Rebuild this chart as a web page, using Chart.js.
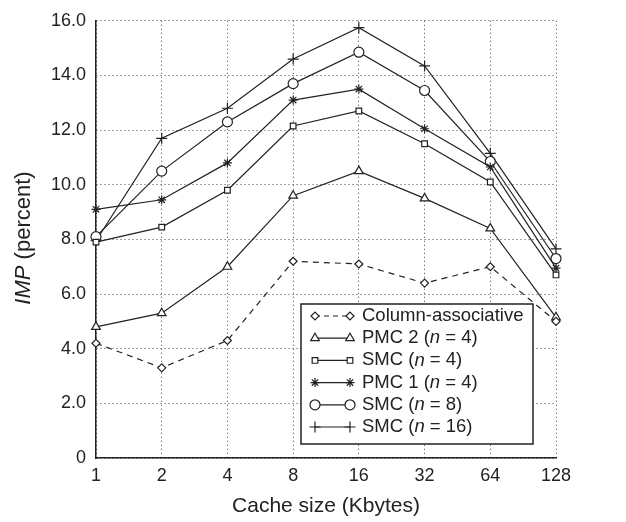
<!DOCTYPE html>
<html>
<head>
<meta charset="utf-8">
<script src="https://cdn.jsdelivr.net/npm/chart.js@4.4.0/dist/chart.umd.min.js"></script>
<style>
  html, body { margin: 0; padding: 0; background: #fff; }
  #wrap { width: 626px; height: 522px; }
</style>
</head>
<body>
<div id="wrap"><canvas id="chart" width="626" height="522"></canvas></div>
<script>
const cacheSizes = ["1", "2", "4", "8", "16", "32", "64", "128"];
const columnAssoc = [4.2, 3.3, 4.3, 7.2, 7.1, 6.4, 7.0, 5.0];
const pmc2 = [4.8, 5.3, 7.0, 9.6, 10.5, 9.5, 8.4, 5.15];
const smc4 = [7.9, 8.45, 9.8, 12.15, 12.7, 11.5, 10.1, 6.7];
const pmc1 = [9.1, 9.45, 10.8, 13.1, 13.5, 12.05, 10.65, 6.95];
const smc8 = [8.1, 10.5, 12.3, 13.7, 14.85, 13.45, 10.85, 7.3];
const smc16 = [7.95, 11.7, 12.8, 14.6, 15.75, 14.35, 11.15, 7.65];
const yTicks = [0, 2, 4, 6, 8, 10, 12, 14, 16];

const FONT = "'Liberation Sans', Arial, Helvetica, sans-serif";
const INK = "#222";

// legend rows: [prefix, italic part, suffix]
const series = [
  { label: ["Column-associative", "", ""], data: columnAssoc, style: "rectRot", r: 4, dash: [6, 5] },
  { label: ["PMC 2 (", "n", " = 4)"], data: pmc2, style: "triangle", r: 5, dash: [] },
  { label: ["SMC (", "n", " = 4)"], data: smc4, style: "rect", r: 4, dash: [] },
  { label: ["PMC 1 (", "n", " = 4)"], data: pmc1, style: "star", r: 4.5, dash: [] },
  { label: ["SMC (", "n", " = 8)"], data: smc8, style: "circle", r: 5, dash: [] },
  { label: ["SMC (", "n", " = 16)"], data: smc16, style: "cross", r: 5.5, dash: [] },
];

function drawMarker(ctx, s, x, y) {
  ctx.save();
  ctx.fillStyle = "#fff";
  ctx.strokeStyle = INK;
  ctx.lineWidth = 1.2;
  ctx.setLineDash([]);
  Chart.helpers.drawPoint(ctx, { pointStyle: s.style, radius: s.r, borderWidth: 1.2, rotation: 0 }, x, y);
  ctx.restore();
}

const extras = {
  id: "extras",
  afterDraw(chart) {
    const ctx = chart.ctx;
    const area = chart.chartArea;
    ctx.save();
    ctx.fillStyle = INK;

    // y axis title with italic IMP
    ctx.save();
    ctx.translate(24, 238);
    ctx.rotate(-Math.PI / 2);
    ctx.textBaseline = "middle";
    ctx.font = "italic 22px " + FONT;
    const w1 = ctx.measureText("IMP").width;
    ctx.font = "22px " + FONT;
    const w2 = ctx.measureText(" (percent)").width;
    let x0 = -(w1 + w2) / 2;
    ctx.font = "italic 22px " + FONT;
    ctx.fillText("IMP", x0, 0);
    ctx.font = "22px " + FONT;
    ctx.fillText(" (percent)", x0 + w1, 0);
    ctx.restore();

    // x axis title
    ctx.font = "21px " + FONT;
    ctx.textAlign = "center";
    ctx.textBaseline = "middle";
    ctx.fillText("Cache size (Kbytes)", (area.left + area.right) / 2, 506);

    // legend box
    const bx = 301, by = 304, bw = 232, bh = 140;
    ctx.fillStyle = "#fff";
    ctx.fillRect(bx, by, bw, bh);
    ctx.strokeStyle = INK;
    ctx.lineWidth = 1.5;
    ctx.strokeRect(bx, by, bw, bh);

    series.forEach((s, i) => {
      const y = 316 + i * 22.2;
      ctx.save();
      ctx.strokeStyle = INK;
      ctx.lineWidth = 1.2;
      ctx.setLineDash(s.dash.length ? [5, 4] : []);
      ctx.beginPath();
      ctx.moveTo(315, y);
      ctx.lineTo(350, y);
      ctx.stroke();
      ctx.restore();
      drawMarker(ctx, s, 315, y);
      drawMarker(ctx, s, 350, y);

      ctx.fillStyle = INK;
      ctx.textAlign = "left";
      ctx.textBaseline = "middle";
      let tx = 362;
      ctx.font = "18.5px " + FONT;
      ctx.fillText(s.label[0], tx, y);
      tx += ctx.measureText(s.label[0]).width;
      if (s.label[1]) {
        ctx.font = "italic 18.5px " + FONT;
        ctx.fillText(s.label[1], tx, y);
        tx += ctx.measureText(s.label[1]).width;
        ctx.font = "18.5px " + FONT;
        ctx.fillText(s.label[2], tx, y);
      }
    });
    ctx.restore();
  },
};

new Chart(document.getElementById("chart"), {
  type: "line",
  data: {
    labels: cacheSizes,
    datasets: series.map((s) => ({
      label: s.label.join(""),
      data: s.data,
      borderColor: INK,
      borderWidth: 1.2,
      borderDash: s.dash,
      pointStyle: s.style,
      pointRadius: s.r,
      pointBorderWidth: 1.2,
      pointBackgroundColor: "#fff",
      pointBorderColor: INK,
      tension: 0,
      fill: false,
    })),
  },
  options: {
    responsive: false,
    animation: false,
    layout: { padding: { top: 15, right: 70, left: 0, bottom: 0 } },
    plugins: { legend: { display: false }, tooltip: { enabled: false } },
    scales: {
      x: {
        offset: false,
        afterFit: (s) => { s.height = 64; },
        grid: { color: "#444", lineWidth: 1, drawTicks: false },
        border: { display: true, color: INK, width: 1.5, dash: [1, 3] },
        ticks: { color: INK, font: { family: FONT, size: 18 }, padding: 7, maxRotation: 0 },
      },
      y: {
        min: 0,
        max: 16,
        afterFit: (s) => { s.width = 96; },
        afterBuildTicks: (s) => { s.ticks = yTicks.map((v) => ({ value: v })); },
        grid: { color: "#444", lineWidth: 1, drawTicks: false },
        border: { display: true, color: INK, width: 1.5, dash: [1, 3] },
        ticks: {
          color: INK,
          font: { family: FONT, size: 18 },
          padding: 10,
          callback: (v) => (v === 0 ? "0" : v.toFixed(1)),
        },
      },
    },
  },
  plugins: [extras],
});
</script>
</body>
</html>
